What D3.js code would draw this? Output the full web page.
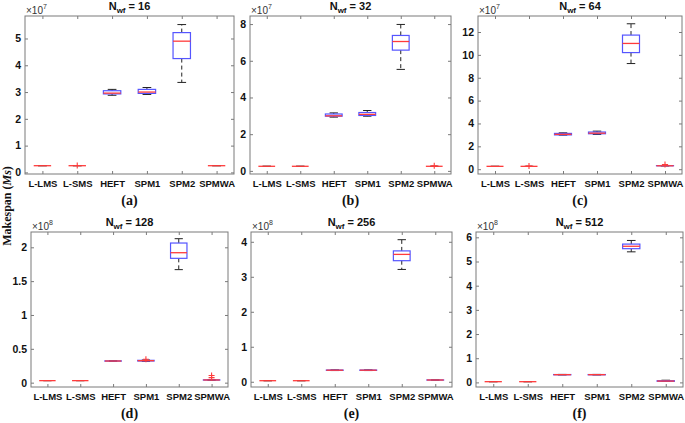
<!DOCTYPE html>
<html><head><meta charset="utf-8">
<script src="https://cdn.jsdelivr.net/npm/d3@7"></script>
<style>body{margin:0;background:#fff} svg{display:block}</style>
</head><body>
<svg id="c" width="685" height="423"></svg>
<script>
const categories = ["L-LMS","L-SMS","HEFT","SPM1","SPM2","SPMWA"];
const workflowSizes = [16,32,64,128,256,512];
const exponents = [7,7,7,8,8,8];
const panelLetters = ["(a)","(b)","(c)","(d)","(e)","(f)"];
const ticks16 = [0,1,2,3,4,5];
const ticks32 = [0,2,4,6,8];
const ticks64 = [0,2,4,6,8,10,12];
const ticks128 = [0,0.5,1,1.5,2];
const ticks256 = [0,1,2,3,4];
const ticks512 = [0,1,2,3,4,5,6];
const tickFormat128 = ["0","0.5","1","1.5","2"];
const yRange16 = [-0.06,5.84], yRange32 = [-0.17,8.44], yRange64 = [-0.42,13.4];
const yRange128 = [-0.064,2.226], yRange256 = [-0.15,4.28], yRange512 = [-0.19,6.22];
// [lower whisker, q1, median, q3, upper whisker] in units of 10^exponent
const stats16 = [[0.25,0.25,0.25,0.25,0.25],[0.25,0.25,0.25,0.25,0.25],[2.88,2.93,2.96,3.05,3.10],[2.91,2.95,3.00,3.10,3.17],[3.36,4.25,4.90,5.22,5.52],[0.25,0.25,0.25,0.25,0.25]];
const stats32 = [[0.25,0.25,0.25,0.25,0.25],[0.25,0.25,0.25,0.25,0.25],[2.93,2.98,3.00,3.10,3.16],[2.98,3.02,3.08,3.18,3.29],[5.53,6.58,7.05,7.38,7.98],[0.25,0.25,0.25,0.25,0.25]];
const stats64 = [[0.25,0.25,0.25,0.25,0.25],[0.25,0.25,0.25,0.25,0.25],[2.98,3.00,3.05,3.13,3.18],[3.04,3.10,3.15,3.25,3.33],[9.24,10.2,11.0,11.73,12.72],[0.28,0.30,0.30,0.31,0.33]];
const stats128 = [[0.03,0.03,0.03,0.03,0.03],[0.03,0.03,0.03,0.03,0.03],[0.315,0.318,0.32,0.322,0.325],[0.315,0.32,0.325,0.33,0.335],[1.67,1.837,1.92,2.063,2.127],[0.035,0.038,0.04,0.042,0.045]];
const stats256 = [[0.03,0.03,0.03,0.03,0.03],[0.03,0.03,0.03,0.03,0.03],[0.32,0.325,0.33,0.335,0.34],[0.32,0.325,0.33,0.335,0.34],[3.21,3.46,3.64,3.74,4.06],[0.045,0.048,0.05,0.052,0.055]];
const stats512 = [[0.03,0.03,0.03,0.03,0.03],[0.03,0.03,0.03,0.03,0.03],[0.31,0.315,0.32,0.325,0.33],[0.31,0.315,0.32,0.325,0.33],[5.40,5.53,5.63,5.72,5.87],[0.04,0.045,0.055,0.07,0.09]];
// outliers: [category index, value]
const outliers16 = [[1,0.26]];
const outliers32 = [[5,0.28]];
const outliers64 = [[1,0.27],[5,0.41]];
const outliers128 = [[3,0.345],[5,0.075],[5,0.105]];
const outliers256 = [];
const outliers512 = [];

const panels = [
  {stats:stats16, out:outliers16, ticks:ticks16, yr:yRange16, box:[25,234,16,174]},
  {stats:stats32, out:outliers32, ticks:ticks32, yr:yRange32, box:[250,451,16,174]},
  {stats:stats64, out:outliers64, ticks:ticks64, yr:yRange64, box:[478,682,16,174]},
  {stats:stats128, out:outliers128, ticks:ticks128, yr:yRange128, box:[31,228,232,387], fmt:tickFormat128},
  {stats:stats256, out:outliers256, ticks:ticks256, yr:yRange256, box:[251,452,232,387]},
  {stats:stats512, out:outliers512, ticks:ticks512, yr:yRange512, box:[476,683,232,387]}
];

const svg = d3.select("#c");
const AX = "#7a7a7a", BOXC = "#5555ff", MEDC = "#ff3b3b";
const sansB = "'Liberation Sans', Arial, sans-serif";

panels.forEach((p, k) => {
  const [L, R, T, B] = p.box;
  const x = d3.scaleLinear().domain([0.5, categories.length + 0.5]).range([L, R]);
  const y = d3.scaleLinear().domain(p.yr).range([B, T]);
  const g = svg.append("g");

  // axes
  const fmt = p.fmt ? (d, i) => p.fmt[i] : d3.format("~g");
  const yl = g.append("g").attr("transform", `translate(${L},0)`)
    .call(d3.axisLeft(y).tickValues(p.ticks).tickFormat(fmt).tickSizeInner(-3).tickSizeOuter(0).tickPadding(4));
  const yr = g.append("g").attr("transform", `translate(${R},0)`)
    .call(d3.axisRight(y).tickValues(p.ticks).tickFormat("").tickSizeInner(-3).tickSizeOuter(0));
  const xb = g.append("g").attr("transform", `translate(0,${B})`)
    .call(d3.axisBottom(x).tickValues(d3.range(1, categories.length + 1)).tickFormat(i => categories[i - 1]).tickSizeInner(-3).tickSizeOuter(0).tickPadding(6));
  const xt = g.append("g").attr("transform", `translate(0,${T})`)
    .call(d3.axisTop(x).tickValues(d3.range(1, categories.length + 1)).tickFormat("").tickSizeInner(-3).tickSizeOuter(0));
  [yl, yr, xb, xt].forEach(a => {
    a.select(".domain").remove();
    a.selectAll(".tick line").attr("stroke", AX);
    a.selectAll("text").attr("font-family", sansB).attr("font-weight", "bold").attr("font-size", 10.5).attr("fill", "#111");
  });
  xb.selectAll("text").attr("font-size", 9.5);
  g.append("rect").attr("x", L).attr("y", T).attr("width", R - L).attr("height", B - T)
    .attr("fill", "none").attr("stroke", AX).attr("stroke-width", 1);

  // boxes
  const bw = (x(2) - x(1)) * 0.5;
  const cw = bw * 0.5;
  p.stats.forEach((s, i) => {
    const cx = x(i + 1);
    const [lo, q1, med, q3, hi] = s;
    const bg = g.append("g");
    if (hi > q3) bg.append("line").attr("x1", cx).attr("x2", cx).attr("y1", y(q3)).attr("y2", y(hi))
      .attr("stroke", "#222").attr("stroke-dasharray", "4,3");
    if (lo < q1) bg.append("line").attr("x1", cx).attr("x2", cx).attr("y1", y(q1)).attr("y2", y(lo))
      .attr("stroke", "#222").attr("stroke-dasharray", "4,3");
    [lo, hi].forEach(v => bg.append("line").attr("x1", cx - cw / 2).attr("x2", cx + cw / 2)
      .attr("y1", y(v)).attr("y2", y(v)).attr("stroke", "#222"));
    bg.append("rect").attr("x", cx - bw / 2).attr("y", y(q3)).attr("width", bw)
      .attr("height", Math.max(0, y(q1) - y(q3))).attr("fill", "none").attr("stroke", BOXC).attr("stroke-width", 1.2);
    bg.append("line").attr("x1", cx - bw / 2).attr("x2", cx + bw / 2).attr("y1", y(med)).attr("y2", y(med))
      .attr("stroke", MEDC).attr("stroke-width", 1.3);
  });
  p.out.forEach(([i, v]) => {
    const cx = x(i + 1), cy = y(v);
    g.append("path").attr("d", `M${cx - 3},${cy}H${cx + 3}M${cx},${cy - 3}V${cy + 3}`)
      .attr("stroke", MEDC).attr("stroke-width", 1.1);
  });

  // exponent label
  const ex = g.append("text").attr("x", L + 1).attr("y", T - 2).attr("font-family", sansB)
    .attr("font-size", 10).attr("fill", "#333");
  ex.append("tspan").text("×10");
  ex.append("tspan").attr("dy", -5).attr("font-size", 7).text(exponents[k]);

  // title
  const tt = g.append("text").attr("x", (L + R) / 2).attr("y", T - 6).attr("text-anchor", "middle")
    .attr("font-family", sansB).attr("font-weight", "bold").attr("font-size", 11).attr("fill", "#111");
  tt.append("tspan").text("N");
  tt.append("tspan").attr("dy", 3).attr("font-size", 8).text("wf");
  tt.append("tspan").attr("dy", -3).text(" = " + workflowSizes[k]);

  // panel letter
  g.append("text").attr("x", (L + R) / 2).attr("y", B + 31).attr("text-anchor", "middle")
    .attr("font-family", "'Liberation Serif', 'Times New Roman', serif").attr("font-weight", "bold")
    .attr("font-size", 14).attr("fill", "#111").text(panelLetters[k]);
});

// y label
const ylab = svg.append("text").attr("transform", "translate(11,206) rotate(-90)").attr("text-anchor", "middle")
  .attr("font-family", "'Liberation Serif', 'Times New Roman', serif").attr("font-weight", "bold")
  .attr("font-size", 12).attr("fill", "#111");
ylab.append("tspan").text("Makespan (");
ylab.append("tspan").attr("font-style", "italic").text("Ms");
ylab.append("tspan").text(")");
</script>
</body></html>
